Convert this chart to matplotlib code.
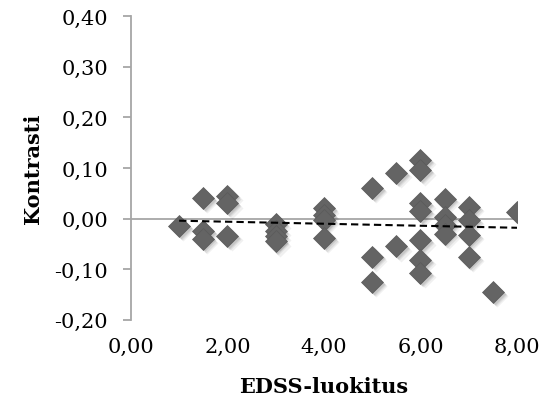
import numpy as np
import matplotlib.pyplot as plt
import matplotlib.transforms as mtransforms

# EDSS score vs contrast values
edss = [1.0, 1.5, 1.5, 1.5, 2.0, 2.0, 2.0, 3.0, 3.0, 3.0, 3.0,
        4.0, 4.0, 4.0, 4.0, 5.0, 5.0, 5.0, 5.5, 5.5,
        6.0, 6.0, 6.0, 6.0, 6.0, 6.0, 6.0,
        6.5, 6.5, 6.5, 6.5, 7.0, 7.0, 7.0, 7.0, 7.5, 8.0]
kontrasti = [-0.015, 0.040, -0.025, -0.040, 0.045, 0.030, -0.035,
             -0.010, -0.025, -0.035, -0.045,
             0.020, 0.007, -0.003, -0.038, 0.060, -0.075, -0.125, 0.090, -0.055,
             0.115, 0.095, 0.030, 0.015, -0.043, -0.082, -0.108,
             0.038, 0.003, -0.013, -0.030, 0.023, -0.003, -0.033, -0.076,
             -0.145, 0.012]

x_ticks = [0, 2, 4, 6, 8]
y_ticks = [-0.2, -0.1, 0.0, 0.1, 0.2, 0.3, 0.4]

plt.rcParams['font.family'] = ['DejaVu Serif']

fig = plt.figure(figsize=(5.5, 4.14), dpi=100)
ax = fig.add_axes([0.238, 0.225, 0.702, 0.734])

gray = '#a6a6a6'

# horizontal axis line through zero
ax.plot([0, 8], [0, 0], color=gray, lw=1.3, zorder=1)

# soft shadow behind the markers
for dx, dy, a in [(3, -3, 0.06), (2, -2, 0.08), (1.2, -1.2, 0.10)]:
    tr = mtransforms.offset_copy(ax.transData, fig=fig, x=dx, y=dy, units='points')
    ax.plot(edss, kontrasti, 'D', ms=11, color='#000000', alpha=a, mec='none',
            transform=tr, zorder=2)

ax.plot(edss, kontrasti, 'D', ms=11, color='#646464', mec='#5a5a5a', mew=0.5, zorder=3)

# linear trendline
k, b = np.polyfit(edss, kontrasti, 1)
xs = np.array([min(edss), max(edss)])
ax.plot(xs, k * xs + b, '--', color='black', lw=1.5, dashes=(3.5, 2), zorder=4)

ax.set_xlim(0, 8)
ax.set_ylim(-0.2, 0.4)
ax.set_xticks(x_ticks)
ax.set_yticks(y_ticks)
ax.set_xticklabels([f'{v:.2f}'.replace('.', ',') for v in x_ticks])
ax.set_yticklabels([f'{v:.2f}'.replace('.', ',') for v in y_ticks])

for s in ['top', 'right', 'bottom']:
    ax.spines[s].set_visible(False)
ax.spines['left'].set_color(gray)
ax.spines['left'].set_linewidth(1.3)
ax.tick_params(axis='y', colors=gray, length=5.5, width=1.3, pad=11,
               labelcolor='black', labelsize=15)
ax.tick_params(axis='x', length=0, pad=12, labelcolor='black', labelsize=15)

ax.set_xlabel('EDSS-luokitus', fontsize=15, fontweight='bold', labelpad=15)
ax.set_ylabel('Kontrasti', fontsize=15, fontweight='bold', labelpad=8)

fig.savefig('out.png', dpi=100)
